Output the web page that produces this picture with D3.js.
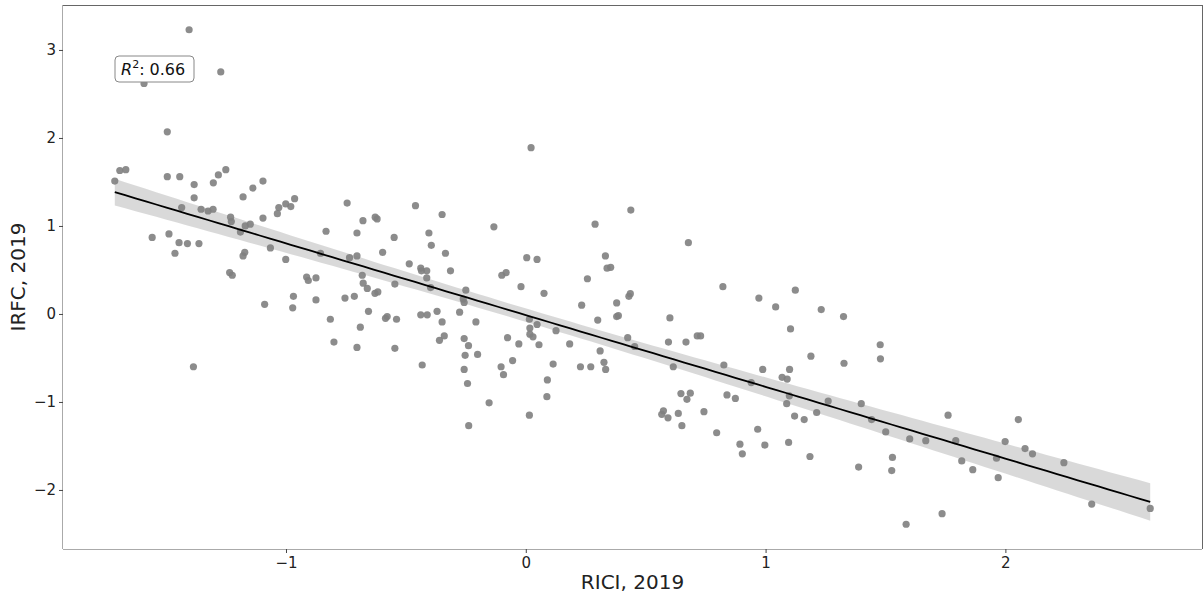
<!DOCTYPE html>
<html>
<head>
<meta charset="utf-8">
<script src="https://cdn.jsdelivr.net/npm/d3@7"></script>
<style>
  html, body { margin: 0; padding: 0; background: #ffffff; }
  svg { display: block; font-family: "DejaVu Sans", sans-serif; }
</style>
</head>
<body>
<svg id="chart" width="1203" height="599"></svg>
<script>
// RICI (x) vs IRFC (y), 2019 — one entry per country
const rici2019 = [
  -1.404, -1.272, -1.592, -1.495, -1.693, -1.668, -1.714, -1.495, -1.443, -1.383,
  -1.303, -1.282, -1.251, -1.096, -1.138, -1.179, -1.383, -0.964, -1.030, -1.001,
  -0.980, -1.036, -1.435, -1.354, -1.325, -1.304, -1.231, -1.228, -1.170, -1.149,
  -1.190, -1.096, -0.745, -0.833, -1.558, -1.488, -1.446, -1.411, -1.363, -1.463,
  -1.179, -1.172, -1.065, -1.001, -0.856, -0.735, -1.235, -1.224, -0.914, -0.875,
  -0.907, -0.969, -1.089, -0.972, -0.875, -0.754, -0.815, -0.800, -1.386, 0.022,
  -0.460, -0.349, -0.679, -0.628, -0.620, -0.133, 0.289, -0.704, -0.549, -0.404,
  -0.394, -0.597, -0.335, -0.704, 0.004, 0.047, 0.332, 0.339, 0.354, -0.486,
  -0.438, -0.435, -0.413, -0.314, -0.100, -0.082, 0.257, -0.682, -0.413, -0.678,
  -0.661, -0.546, -0.397, -0.715, -0.629, -0.617, -0.250, -0.261, -0.257, -0.020,
  0.076, 0.438, 0.233, 0.379, 0.300, 0.379, 0.386, -0.656, -0.585, -0.578,
  -0.539, -0.438, -0.411, -0.370, -0.349, -0.276, -0.208, -0.690, 0.015, 0.047,
  0.017, 0.126, 0.017, 0.030, -0.076, -0.029, 0.055, 0.183, -0.360, -0.340,
  -0.257, -0.239, -0.704, -0.546, -0.201, -0.253, 0.310, 0.326, 0.333, 0.228,
  0.271, 0.114, -0.055, -0.103, -0.093, -0.432, -0.257, -0.243, 0.090, 0.088,
  -0.153, 0.015, -0.238, 0.678, 0.822, 0.972, 1.042, 1.124, 1.232, 1.325,
  1.104, 1.478, 0.430, 0.436, 0.601, 0.425, 0.595, 0.668, 0.715, 0.729,
  0.454, 0.615, 0.826, 0.988, 1.069, 1.090, 1.100, 1.189, 1.327, 1.479,
  0.940, 0.647, 0.686, 0.672, 0.839, 0.874, 1.099, 1.088, 1.261, 1.399,
  1.213, 1.121, 1.161, 1.442, 1.501, 0.574, 0.567, 0.593, 0.636, 0.651,
  0.743, 0.796, 0.967, 0.893, 0.903, 0.997, 1.096, 1.185, 1.388, 1.529,
  1.526, 1.601, 1.668, 1.761, 1.793, 1.818, 1.864, 1.963, 1.999, 1.970,
  2.054, 2.082, 2.113, 2.244, 2.360, 2.604, 1.586, 1.736
];
const irfc2019 = [
  3.23, 2.75, 2.62, 2.07, 1.63, 1.64, 1.51, 1.56, 1.56, 1.47,
  1.49, 1.58, 1.64, 1.51, 1.43, 1.33, 1.32, 1.31, 1.21, 1.25,
  1.22, 1.14, 1.21, 1.19, 1.17, 1.19, 1.10, 1.05, 1.00, 1.02,
  0.93, 1.09, 1.26, 0.94, 0.87, 0.91, 0.81, 0.80, 0.80, 0.69,
  0.66, 0.70, 0.75, 0.62, 0.69, 0.64, 0.47, 0.44, 0.42, 0.41,
  0.38, 0.20, 0.11, 0.07, 0.16, 0.18, -0.06, -0.32, -0.60, 1.89,
  1.23, 1.13, 1.06, 1.10, 1.08, 0.99, 1.02, 0.92, 0.87, 0.92,
  0.78, 0.70, 0.69, 0.66, 0.64, 0.62, 0.66, 0.52, 0.53, 0.57,
  0.52, 0.49, 0.49, 0.49, 0.44, 0.47, 0.40, 0.44, 0.41, 0.35,
  0.29, 0.34, 0.30, 0.20, 0.235, 0.25, 0.27, 0.17, 0.13, 0.31,
  0.235, 1.18, 0.10, 0.125, -0.07, -0.03, -0.02, 0.03, -0.05, -0.03,
  -0.06, -0.01, -0.01, 0.03, -0.09, 0.02, -0.09, -0.15, -0.06, -0.12,
  -0.16, -0.19, -0.23, -0.26, -0.27, -0.34, -0.35, -0.34, -0.30, -0.25,
  -0.28, -0.36, -0.38, -0.39, -0.46, -0.47, -0.42, -0.55, -0.63, -0.60,
  -0.60, -0.57, -0.53, -0.60, -0.69, -0.58, -0.63, -0.79, -0.75, -0.94,
  -1.01, -1.15, -1.27, 0.81, 0.31, 0.18, 0.08, 0.27, 0.05, -0.03,
  -0.17, -0.35, 0.20, 0.23, -0.045, -0.27, -0.32, -0.32, -0.25, -0.25,
  -0.37, -0.60, -0.58, -0.63, -0.72, -0.74, -0.63, -0.48, -0.56, -0.51,
  -0.78, -0.905, -0.90, -0.97, -0.92, -0.96, -0.93, -1.02, -0.99, -1.02,
  -1.12, -1.16, -1.20, -1.20, -1.34, -1.10, -1.14, -1.18, -1.13, -1.27,
  -1.11, -1.35, -1.31, -1.48, -1.59, -1.49, -1.46, -1.62, -1.74, -1.63,
  -1.78, -1.42, -1.44, -1.15, -1.44, -1.67, -1.77, -1.64, -1.45, -1.86,
  -1.20, -1.53, -1.59, -1.69, -2.16, -2.21, -2.39, -2.27
];
const xTicks = [-1, 0, 1, 2];
const yTicks = [-2, -1, 0, 1, 2, 3];
const xTitle = "RICI, 2019";
const yTitle = "IRFC, 2019";
const rSquared = "0.66";

const svg = d3.select("#chart");
const plot = { left: 63, right: 1202, top: 5, bottom: 549 };

// Axis limits: data range padded by 5% on each side
const pad = (lo, hi) => { const m = (hi - lo) * 0.05; return [lo - m, hi + m]; };
const [xMin, xMax] = d3.extent(rici2019);
const [yMin, yMax] = d3.extent(irfc2019);
const x = d3.scaleLinear().domain(pad(xMin, xMax)).range([plot.left, plot.right]);
const y = d3.scaleLinear().domain(pad(yMin, yMax)).range([plot.bottom, plot.top]);

// Ordinary least squares fit with a 95% confidence band for the mean
const n = rici2019.length;
const mx = d3.mean(rici2019), my = d3.mean(irfc2019);
let sxx = 0, sxy = 0;
for (let i = 0; i < n; i++) {
  sxx += (rici2019[i] - mx) ** 2;
  sxy += (rici2019[i] - mx) * (irfc2019[i] - my);
}
const slope = sxy / sxx;
const intercept = my - slope * mx;
let sse = 0;
for (let i = 0; i < n; i++) sse += (irfc2019[i] - (intercept + slope * rici2019[i])) ** 2;
const sResid = Math.sqrt(sse / (n - 2));
const tCrit = 1.97;
const grid = d3.range(0, 101).map(k => xMin + (xMax - xMin) * k / 100);
const band = grid.map(g => {
  const fit = intercept + slope * g;
  const half = tCrit * sResid * Math.sqrt(1 / n + (g - mx) ** 2 / sxx);
  return { g, lo: fit - half, hi: fit + half, fit };
});

// Confidence band
svg.append("path")
  .datum(band)
  .attr("fill", "#000000")
  .attr("fill-opacity", 0.15)
  .attr("d", d3.area().x(d => x(d.g)).y0(d => y(d.lo)).y1(d => y(d.hi)));

// Scatter points
svg.append("g")
  .selectAll("circle")
  .data(d3.range(n))
  .join("circle")
  .attr("cx", i => x(rici2019[i]))
  .attr("cy", i => y(irfc2019[i]))
  .attr("r", 3.6)
  .attr("fill", "#808080")
  .attr("fill-opacity", 0.9);

// Fitted line
svg.append("path")
  .datum(band)
  .attr("fill", "none")
  .attr("stroke", "#000000")
  .attr("stroke-width", 1.8)
  .attr("d", d3.line().x(d => x(d.g)).y(d => y(d.fit)));

// Frame
const frame = svg.append("g").attr("fill", "none").attr("shape-rendering", "crispEdges");
frame.append("line").attr("x1", plot.left).attr("x2", plot.right).attr("y1", plot.top + 0.5).attr("y2", plot.top + 0.5).attr("stroke", "#666");
frame.append("line").attr("x1", plot.right + 0.5).attr("x2", plot.right + 0.5).attr("y1", plot.top).attr("y2", plot.bottom).attr("stroke", "#666");
frame.append("line").attr("x1", plot.left - 0.5).attr("x2", plot.left - 0.5).attr("y1", plot.top).attr("y2", plot.bottom).attr("stroke", "#aaa");
frame.append("line").attr("x1", plot.left).attr("x2", plot.right).attr("y1", plot.bottom + 0.5).attr("y2", plot.bottom + 0.5).attr("stroke", "#aaa");

// Axes
const fmt = d => (d < 0 ? "\u2212" + Math.abs(d) : String(d));
const xAxis = svg.append("g")
  .attr("transform", `translate(0,${plot.bottom})`)
  .call(d3.axisBottom(x).tickValues(xTicks).tickFormat(fmt).tickSize(4).tickSizeOuter(0));
const yAxis = svg.append("g")
  .attr("transform", `translate(${plot.left},0)`)
  .call(d3.axisLeft(y).tickValues(yTicks).tickFormat(fmt).tickSize(4).tickSizeOuter(0));
[xAxis, yAxis].forEach(a => {
  a.select(".domain").remove();
  a.selectAll(".tick line").attr("stroke", "#444");
  a.selectAll(".tick text").attr("fill", "#222").attr("font-size", 15)
    .attr("font-family", "DejaVu Sans, sans-serif");
});
xAxis.selectAll(".tick text").attr("dy", "0.71em").attr("y", 8);
yAxis.selectAll(".tick text").attr("x", -7);

// Axis titles
svg.append("text")
  .attr("x", (plot.left + plot.right) / 2)
  .attr("y", 589)
  .attr("text-anchor", "middle")
  .attr("font-size", 20)
  .attr("fill", "#222")
  .text(xTitle);
svg.append("text")
  .attr("transform", `translate(25,${(plot.top + plot.bottom) / 2}) rotate(-90)`)
  .attr("text-anchor", "middle")
  .attr("font-size", 20)
  .attr("fill", "#222")
  .text(yTitle);

// R² annotation box
const ann = svg.append("g").attr("transform", `translate(${plot.left + 52},56)`);
ann.append("rect")
  .attr("x", 0).attr("y", 0).attr("width", 79).attr("height", 26)
  .attr("rx", 4).attr("ry", 4)
  .attr("fill", "#ffffff").attr("stroke", "#888").attr("stroke-width", 1);
const t = ann.append("text").attr("x", 6).attr("y", 19).attr("font-size", 16).attr("fill", "#111");
t.append("tspan").attr("font-style", "italic").text("R");
t.append("tspan").attr("font-size", 11).attr("dy", -7).text("2");
t.append("tspan").attr("dy", 7).text(": " + rSquared);
</script>
</body>
</html>
